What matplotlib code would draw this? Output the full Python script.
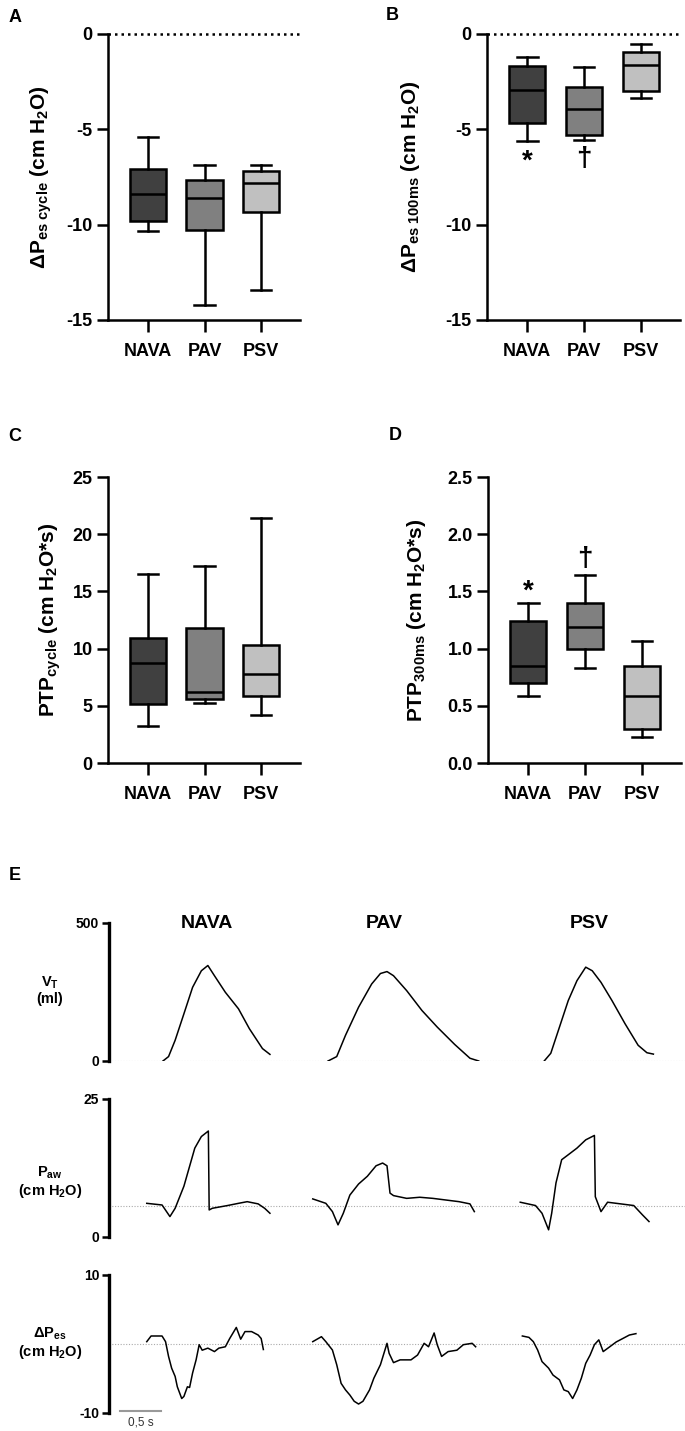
import matplotlib
matplotlib.use("Agg")
import matplotlib.pyplot as plt

plt.rcParams['font.family'] = ['Liberation Sans', 'DejaVu Sans']
plt.rcParams['mathtext.fontset'] = 'custom'
plt.rcParams['mathtext.rm'] = 'Liberation Sans:bold'
plt.rcParams['mathtext.it'] = 'Liberation Sans:bold'
plt.rcParams['mathtext.bf'] = 'Liberation Sans:bold'
plt.rcParams['mathtext.default'] = 'rm'
plt.rcParams['axes.unicode_minus'] = False

modes = ['NAVA', 'PAV', 'PSV']
box_colors = ['#404040', '#808080', '#c0c0c0']

# box stats: [whisker low, q1, median, q3, whisker high]
dpes_cycle = [[-10.33, -9.79, -8.39, -7.08, -5.42],
              [-14.21, -10.28, -8.60, -7.66, -6.85],
              [-13.44, -9.35, -7.81, -7.19, -6.85]]
dpes_100ms = [[-5.63, -4.65, -2.95, -1.68, -1.22],
              [-5.54, -5.31, -3.93, -2.78, -1.73],
              [-3.34, -2.99, -1.63, -0.94, -0.51]]
ptp_cycle = [[3.2, 5.17, 8.76, 10.92, 16.49],
             [5.26, 5.58, 6.17, 11.82, 17.19],
             [4.18, 5.90, 7.80, 10.28, 21.38]]
ptp_300ms = [[0.59, 0.70, 0.85, 1.24, 1.40],
             [0.83, 1.00, 1.19, 1.40, 1.64],
             [0.23, 0.30, 0.59, 0.85, 1.07]]

# significance marks: (mode index, y value, symbol)
marks_b = [(0, -6.7, '*'), (1, -6.55, '†')]
marks_d = [(0, 1.50, '*'), (1, 1.78, '†')]

# example traces (time in s)
vt_nava_t = [0.694, 0.763, 0.844, 0.952, 1.059, 1.167, 1.247, 1.328, 1.462, 1.624, 1.758, 1.919, 2.011]
vt_nava = [0, 16, 75, 171, 267, 327, 346, 309, 249, 189, 117, 45, 24]
vt_pav_t = [2.726, 2.833, 2.941, 3.102, 3.263, 3.371, 3.452, 3.532, 3.694, 3.882, 4.070, 4.285, 4.473, 4.581]
vt_pav = [0, 16, 93, 195, 279, 317, 324, 309, 255, 183, 123, 60, 10, 0]
vt_psv_t = [5.387, 5.468, 5.575, 5.683, 5.790, 5.898, 5.978, 6.086, 6.221, 6.382, 6.543, 6.651, 6.731]
vt_psv = [0, 28, 123, 219, 291, 340, 327, 285, 219, 135, 57, 30, 25]

paw_nava_t = [0.495, 0.683, 0.780, 0.844, 0.952, 1.086, 1.167, 1.253, 1.263, 1.301, 1.489, 1.624, 1.731, 1.866, 1.946, 2.011]
paw_nava = [6.1, 5.8, 3.7, 5.2, 9.2, 16.1, 18.2, 19.2, 4.9, 5.2, 5.7, 6.1, 6.4, 6.0, 5.2, 4.3]
paw_pav_t = [2.538, 2.699, 2.780, 2.849, 2.914, 2.995, 3.102, 3.210, 3.317, 3.398, 3.452, 3.489, 3.532, 3.694,
             3.855, 4.016, 4.177, 4.339, 4.473, 4.527]
paw_pav = [6.9, 6.1, 4.6, 2.2, 4.3, 7.6, 9.6, 11.0, 12.9, 13.4, 12.9, 7.95, 7.5, 7.0, 7.2, 7.0, 6.7, 6.4, 6.0, 4.6]
paw_psv_t = [5.092, 5.280, 5.360, 5.441, 5.479, 5.532, 5.602, 5.683, 5.790, 5.898, 6.005, 6.016, 6.086, 6.167,
             6.328, 6.489, 6.597, 6.677]
paw_psv = [6.3, 5.7, 4.3, 1.3, 4.3, 9.8, 14.0, 14.9, 16.1, 17.6, 18.4, 7.3, 4.6, 6.3, 6.0, 5.7, 4.0, 2.8]
peep = 5.6

pes_nava_t = [0.495, 0.548, 0.683, 0.726, 0.763, 0.801, 0.844, 0.871, 0.925, 0.952, 0.995, 1.022, 1.059, 1.102,
              1.140, 1.177, 1.247, 1.328, 1.382, 1.462, 1.516, 1.597, 1.651, 1.704, 1.785, 1.866, 1.903, 1.930]
pes_nava = [0.34, 1.16, 1.16, 0.34, -1.8, -3.5, -4.7, -6.2, -7.9, -7.6, -6.2, -6.3, -4.2, -2.3,
            -0.1, -0.9, -0.6, -1.1, -0.6, -0.4, 0.8, 2.4, 0.7, 1.8, 1.8, 1.3, 0.8, -0.8]
pes_pav_t = [2.538, 2.645, 2.699, 2.780, 2.833, 2.887, 2.941, 2.995, 3.048, 3.102, 3.156, 3.237, 3.290, 3.371,
             3.452, 3.478, 3.532, 3.613, 3.747, 3.828, 3.909, 3.963, 4.032, 4.070, 4.124, 4.204, 4.312, 4.392,
             4.500, 4.543]
pes_pav = [0.34, 1.06, 0.34, -0.87, -3.0, -5.7, -6.65, -7.4, -8.3, -8.7, -8.3, -6.65, -4.96, -3.0,
           0.1, -1.35, -2.7, -2.3, -2.3, -1.6, 0.1, -0.4, 1.6, -0.1, -1.8, -1.1, -0.9, -0.1, 0.1, -0.4]
pes_psv_t = [5.118, 5.199, 5.253, 5.306, 5.360, 5.441, 5.495, 5.575, 5.629, 5.683, 5.737, 5.790, 5.844, 5.898,
             5.952, 6.005, 6.059, 6.113, 6.194, 6.274, 6.355, 6.435, 6.516]
pes_psv = [1.16, 0.96, 0.34, -0.87, -2.55, -3.5, -4.5, -5.2, -6.65, -6.9, -7.9, -6.65, -4.96, -2.8,
           -1.6, -0.1, 0.6, -1.1, -0.4, 0.3, 0.8, 1.3, 1.5]

W, H = 685, 1431
fig = plt.figure(figsize=(W / 100, H / 100), dpi=100)


def add_ax(left, top, right, bottom):
    return fig.add_axes([left / W, 1 - bottom / H, (right - left) / W, (bottom - top) / H])


def box_panel(ax, data, ylim, yticks, ylabel, labelpad, fmt='{:g}', zero_line=False, marks=()):
    stats = []
    for d in data:
        stats.append(dict(whislo=d[0], q1=d[1], med=d[2], q3=d[3], whishi=d[4], fliers=[]))
    lw = 1.8
    bp = ax.bxp(stats, positions=[0, 1, 2], widths=0.64, patch_artist=True, showfliers=False,
                boxprops=dict(linewidth=lw, edgecolor='black'),
                medianprops=dict(color='black', linewidth=lw),
                whiskerprops=dict(color='black', linewidth=lw),
                capprops=dict(color='black', linewidth=lw), capwidths=0.36)
    for patch, c in zip(bp['boxes'], box_colors):
        patch.set_facecolor(c)
    ax.set_xlim(-0.71, 2.69)
    ax.set_ylim(*ylim)
    ax.set_yticks(yticks)
    ax.set_yticklabels([fmt.format(v) for v in yticks])
    ax.set_xticks([0, 1, 2])
    ax.set_xticklabels(modes)
    for s in ['top', 'right']:
        ax.spines[s].set_visible(False)
    for s in ['left', 'bottom']:
        ax.spines[s].set_linewidth(1.8)
    ax.tick_params(width=1.8, length=8, labelsize=13, pad=3)
    ax.tick_params(axis='x', length=8.5, pad=8)
    for lab in ax.get_xticklabels() + ax.get_yticklabels():
        lab.set_fontweight('bold')
    ax.set_ylabel(ylabel, fontsize=15, fontweight='bold', labelpad=labelpad)
    if zero_line:
        ax.axhline(0, color='black', linestyle=(0, (1, 1.6)), linewidth=1.8, clip_on=False)
    for i, y, sym in marks:
        ax.text(i, y, sym, ha='center', va='center', fontsize=20, fontweight='bold')


ax_a = add_ax(108, 34, 300, 320)
box_panel(ax_a, dpes_cycle, (-15, 0), [-15, -10, -5, 0],
          'ΔP$_{es\\ cycle}$ (cm H$_2$O)', 9, zero_line=True)
ax_b = add_ax(487, 34, 680, 320)
box_panel(ax_b, dpes_100ms, (-15, 0), [-15, -10, -5, 0],
          'ΔP$_{es\\ 100ms}$ (cm H$_2$O)', 17, zero_line=True, marks=marks_b)
ax_c = add_ax(108, 477, 300, 763)
box_panel(ax_c, ptp_cycle, (0, 25), [0, 5, 10, 15, 20, 25],
          'PTP$_{cycle}$ (cm H$_2$O*s)', 7)
ax_d = add_ax(488, 477, 681, 763)
box_panel(ax_d, ptp_300ms, (0, 2.5), [0, 0.5, 1.0, 1.5, 2.0, 2.5],
          'PTP$_{300ms}$ (cm H$_2$O*s)', 14, fmt='{:.1f}', marks=marks_d)

for letter, x, y in [('A', 15, 18), ('B', 392, 16), ('C', 15, 437), ('D', 395, 436), ('E', 15, 875)]:
    fig.text(x / W, 1 - y / H, letter, fontsize=13, fontweight='bold', ha='center', va='center')


def trace_panel(ax, series, ylim, base, label, label_y):
    for t, v in series:
        ax.plot(t, v, color='black', linewidth=1.1)
    ax.axhline(base, color='#aaaaaa', linestyle=(0, (1, 1.5)), linewidth=0.8, zorder=0)
    ax.set_xlim(0.03, 7.12)
    ax.set_ylim(*ylim)
    ax.set_yticks(list(ylim))
    ax.set_xticks([])
    for s in ['top', 'right', 'bottom']:
        ax.spines[s].set_visible(False)
    ax.spines['left'].set_linewidth(2.4)
    ax.tick_params(axis='y', width=1.8, length=5, labelsize=10, pad=2)
    for lab in ax.get_yticklabels():
        lab.set_fontweight('bold')
    fig.text(50 / W, 1 - label_y / H, label, fontsize=10.5, fontweight='bold', ha='center', va='center',
             linespacing=1.1)


ax_vt = add_ax(109, 923, 685, 1061)
trace_panel(ax_vt, [(vt_nava_t, vt_nava), (vt_pav_t, vt_pav), (vt_psv_t, vt_psv)],
            (0, 500), 0, 'V$_T$\n(ml)', 990)
ax_paw = add_ax(109, 1099, 685, 1237)
trace_panel(ax_paw, [(paw_nava_t, paw_nava), (paw_pav_t, paw_pav), (paw_psv_t, paw_psv)],
            (0, 25), peep, 'P$_{aw}$\n(cm H$_2$O)', 1182)
ax_pes = add_ax(109, 1275, 685, 1413)
trace_panel(ax_pes, [(pes_nava_t, pes_nava), (pes_pav_t, pes_pav), (pes_psv_t, pes_psv)],
            (-10, 10), 0, 'ΔP$_{es}$\n(cm H$_2$O)', 1343)

# mode titles over the traces
for name, t in zip(modes, [1.23, 3.42, 5.94]):
    ax_vt.text(t, 497, name, ha='center', va='center', fontsize=14, fontweight='bold')

# 0.5 s scale bar
ax_pes.plot([0.17, 0.67], [-9.77, -9.77], color='#999999', linewidth=1.5, clip_on=False)
ax_pes.text(0.42, -11.4, '0,5 s', ha='center', va='center', fontsize=8.5, color='#333333')

fig.savefig('out.png', dpi=100)
